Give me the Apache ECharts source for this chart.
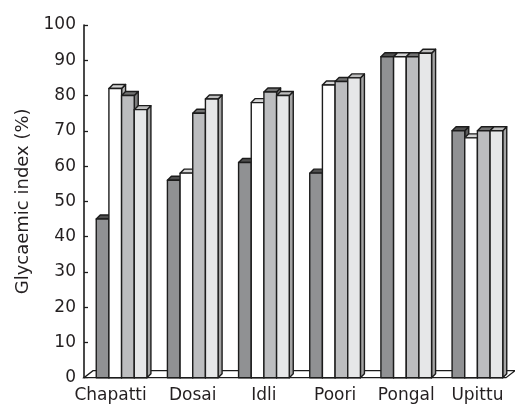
<!DOCTYPE html>
<html>
<head>
<meta charset="utf-8">
<script src="https://cdn.jsdelivr.net/npm/echarts@6/dist/echarts.min.js"></script>
<style>
  html, body { margin: 0; padding: 0; background: #ffffff; }
  #chart { width: 515px; height: 404px; }
</style>
</head>
<body>
<div id="chart"></div>
<script>
// Glycaemic index (%) of six foods, four test groups per food
const categories = ['Chapatti', 'Dosai', 'Idli', 'Poori', 'Pongal', 'Upittu'];
const group1 = [45, 56, 61, 58, 91, 70];
const group2 = [82, 58, 78, 83, 91, 68];
const group3 = [80, 75, 81, 84, 91, 70];
const group4 = [76, 79, 80, 85, 92, 70];
const yMin = 0, yMax = 100, yStep = 10;

const FONT = 'DejaVu Sans';
const INK = '#231f20';
const EDGE = '#1c1c1c';

// face shades for each group: front, top, side
const shades = [
  { front: '#909193', top: '#4f4f4f', side: '#5c5c5c' },
  { front: '#ffffff', top: '#d4d4d4', side: '#b4b4b4' },
  { front: '#bcbdbf', top: '#727272', side: '#7e7e7e' },
  { front: '#e6e7e8', top: '#bdbdbd', side: '#a4a4a4' }
];

const BAR_RATIO = 0.178;   // bar width as a share of a category band
const DEPTH_X = 4, DEPTH_Y = 4;

function boxRenderer(idx) {
  const c = shades[idx];
  return function (params, api) {
    const cat = api.value(0);
    const val = api.value(1);
    const base = api.coord([cat, 0]);
    const top = api.coord([cat, val]);
    const band = api.size([1, 0])[0];
    const bw = band * BAR_RATIO;
    const x0 = base[0] - 2 * bw + idx * bw;
    const x1 = x0 + bw;
    const yb = base[1];
    const yt = top[1];
    const stroke = { stroke: EDGE, lineWidth: 1.4, lineJoin: 'round' };
    return {
      type: 'group',
      children: [
        {
          type: 'polygon',
          shape: { points: [[x1, yb], [x1 + DEPTH_X, yb - DEPTH_Y], [x1 + DEPTH_X, yt - DEPTH_Y], [x1, yt]] },
          style: Object.assign({ fill: c.side }, stroke)
        },
        {
          type: 'polygon',
          shape: { points: [[x0, yt], [x0 + DEPTH_X, yt - DEPTH_Y], [x1 + DEPTH_X, yt - DEPTH_Y], [x1, yt]] },
          style: Object.assign({ fill: c.top }, stroke)
        },
        {
          type: 'rect',
          shape: { x: x0, y: yt, width: bw, height: yb - yt },
          style: Object.assign({ fill: c.front }, stroke)
        }
      ]
    };
  };
}

// the floor plane under the bars
function floorRenderer(params, api) {
  const cs = params.coordSys;
  const yb = cs.y + cs.height;
  const fl = [cs.x - 2, yb];
  const fr = [cs.x + cs.width - 7, yb];
  const br = [fr[0] + 9, yb - 7];
  const bl = [fl[0] + 9, yb - 7];
  return {
    type: 'polygon',
    shape: { points: [fl, fr, br, bl] },
    style: { fill: '#ffffff', stroke: EDGE, lineWidth: 1.3 }
  };
}

const groups = [group1, group2, group3, group4];

// the first label sits a little left, clear of the axis corner
const categoryItems = categories.map(function (name, i) {
  return i === 0 ? { value: name, textStyle: { padding: [0, 22, 0, 0] } } : name;
});

const chart = echarts.init(document.getElementById('chart'), null, { renderer: 'canvas' });
chart.setOption({
  animation: false,
  backgroundColor: '#ffffff',
  grid: { left: 86, right: 2, top: 25, bottom: 26.3, containLabel: false },
  xAxis: {
    type: 'category',
    data: categoryItems,
    axisLine: { show: false },
    axisTick: { show: false },
    axisLabel: { fontFamily: FONT, fontSize: 17, color: INK, margin: 9, interval: 0, hideOverlap: false },
    splitLine: { show: false }
  },
  yAxis: {
    type: 'value',
    min: yMin, max: yMax, interval: yStep,
    offset: 2,
    name: 'Glycaemic index (%)',
    nameLocation: 'middle',
    nameGap: 52,
    nameTextStyle: { fontFamily: FONT, fontSize: 18, color: INK },
    axisLine: { show: true, lineStyle: { color: EDGE, width: 1.6 } },
    axisTick: { show: true, inside: true, length: 4, lineStyle: { color: EDGE, width: 1.3 } },
    axisLabel: { fontFamily: FONT, fontSize: 17, color: INK, margin: 8 },
    splitLine: { show: false }
  },
  series: [
    {
      type: 'custom',
      renderItem: floorRenderer,
      data: [[0, 0]],
      encode: { x: 0, y: 1 },
      z: 1,
      silent: true
    }
  ].concat(groups.map(function (vals, i) {
    return {
      type: 'custom',
      name: 'Group ' + (i + 1),
      renderItem: boxRenderer(i),
      data: vals.map(function (v, k) { return [k, v]; }),
      encode: { x: 0, y: 1 },
      z: 2 + i
    };
  }))
});
</script>
</body>
</html>
